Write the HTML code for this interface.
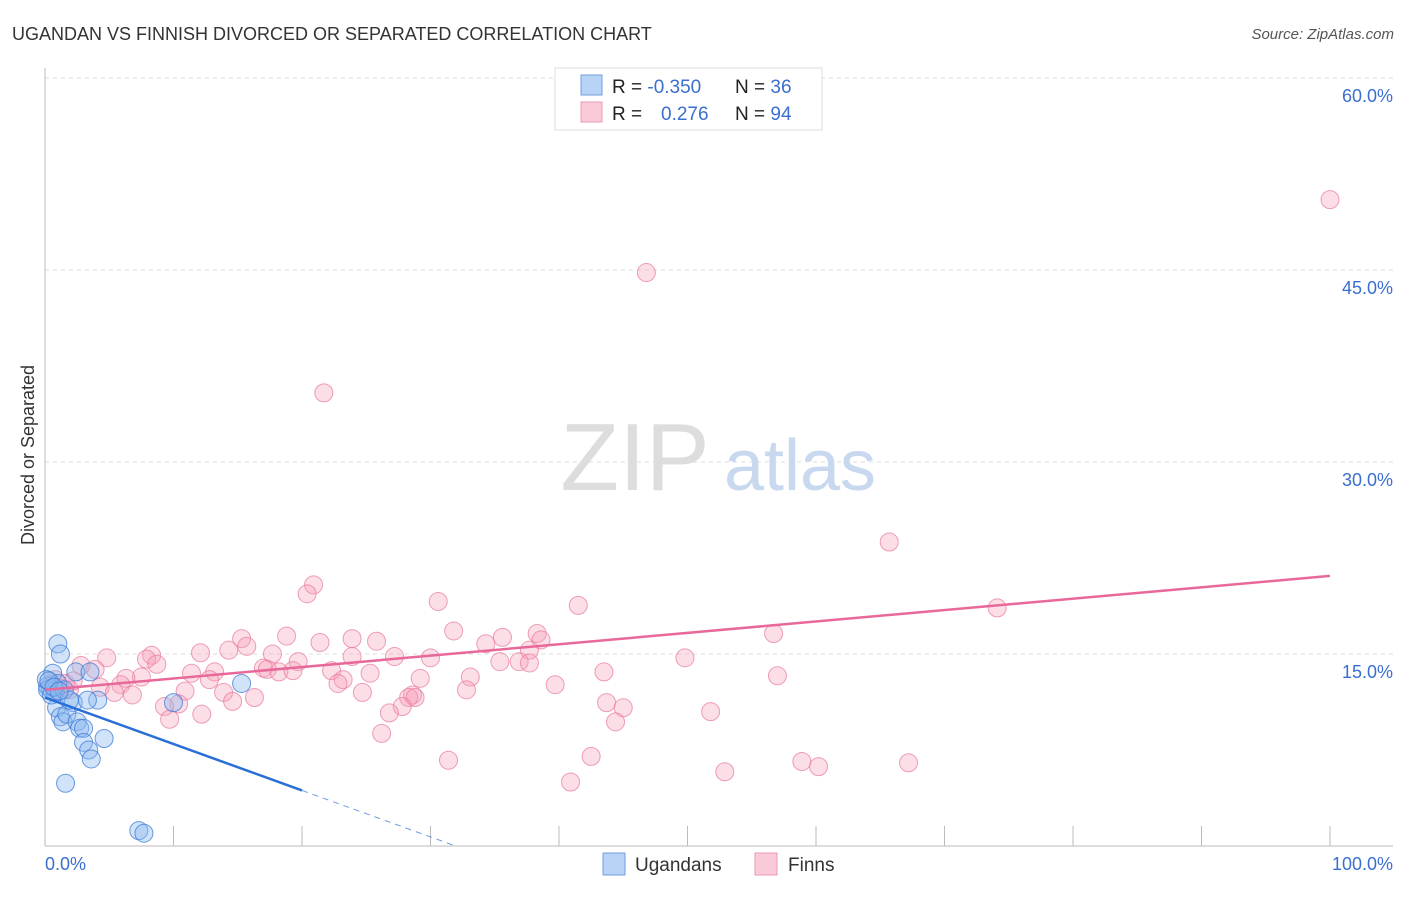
<!DOCTYPE html>
<html><head><meta charset="utf-8"><style>
body{margin:0;background:#fff;font-family:"Liberation Sans",sans-serif}
svg text{font-family:"Liberation Sans",sans-serif}
</style></head><body>
<svg width="1406" height="892" xmlns="http://www.w3.org/2000/svg">
<text x="12" y="40" font-size="18" fill="#333">UGANDAN VS FINNISH DIVORCED OR SEPARATED CORRELATION CHART</text>
<text x="1394" y="39" font-size="15" fill="#555" font-style="italic" text-anchor="end">Source: ZipAtlas.com</text>
<g id="grid"></g>
<g>
<text x="635" y="490" font-size="96" font-family="Liberation Serif" fill="#ddd" text-anchor="middle" font-family="Liberation Serif,serif">ZIP</text>
<text x="800" y="490" font-size="72" fill="#c8d8ef" text-anchor="middle">atlas</text></g>
<line x1="45" y1="68" x2="45" y2="846" stroke="#bbb"/>
<line x1="45" y1="846" x2="1393" y2="846" stroke="#bbb"/>
<g id="xticks"></g>
<g id="pts"></g>
<g id="trends"></g>
<text x="45" y="870" font-size="18" fill="#3a6fd0">0.0%</text>
<text x="1393" y="870" font-size="18" fill="#3a6fd0" text-anchor="end">100.0%</text>
<text transform="translate(34,455) rotate(-90)" font-size="18" fill="#333" text-anchor="middle">Divorced or Separated</text>
<g>
<rect x="555" y="68" width="267" height="62" fill="#fff" stroke="#ddd"/>
<rect x="581" y="75" width="21" height="20" fill="#b8d3f5" stroke="#6f9de0"/>
<rect x="581" y="102" width="21" height="20" fill="#fbcad8" stroke="#ec9ab3"/>
<text x="612" y="93" font-size="19" fill="#222">R = <tspan fill="#3a6fd0">-0.350</tspan></text>
<text x="735" y="93" font-size="19" fill="#222">N = <tspan fill="#3a6fd0">36</tspan></text>
<text x="612" y="120" font-size="19" fill="#222">R = <tspan fill="#3a6fd0" x="661">0.276</tspan></text>
<text x="735" y="120" font-size="19" fill="#222">N = <tspan fill="#3a6fd0">94</tspan></text>
</g>
<g>
<rect x="603" y="853" width="22" height="22" fill="#b8d3f5" stroke="#6f9de0"/>
<text x="635" y="871" font-size="19" fill="#333">Ugandans</text>
<rect x="755" y="853" width="22" height="22" fill="#fbcad8" stroke="#ec9ab3"/>
<text x="788" y="871" font-size="19" fill="#333">Finns</text>
</g>
</svg>
<script>
const yTicks=[15,30,45,60];
const yTickLabels=["15.0%","30.0%","45.0%","60.0%"];
const xTicks=[10,20,30,40,50,60,70,80,90,100];
const finnsX=[100,46.8,21.7,65.7,20.9,20.4,30.6,41.5,74.1,31.8,38.3,56.7,18.8,21.4,23.9,25.8,15.3,35.6,34.3,38.6,37.7,15.7,14.3,12.1,8.3,7.9,4.8,17.7,23.9,27.2,30,35.4,36.9,37.7,49.8,8.7,2.8,3.9,19.7,17,17.3,18.2,19.3,22.3,25.3,43.5,57,13.2,11.4,7.5,6.3,33.1,29.2,12.8,23.2,22.8,5.9,1.6,4.3,39.7,10.9,13.9,32.8,5.4,6.8,24.7,16.3,14.6,28.6,28.3,28.8,10.4,9.3,43.7,45,27.8,51.8,26.8,12.2,9.7,44.4,26.2,31.4,42.5,58.9,60.2,67.2,52.9,40.9,0.8,1.2,1.9,0.5,2.2];
const finnsY=[50.5,44.8,35.4,23.75,20.4,19.7,19.1,18.8,18.6,16.8,16.6,16.6,16.4,15.9,16.2,16.0,16.2,16.3,15.8,16.1,15.3,15.6,15.3,15.1,14.9,14.6,14.7,15.0,14.8,14.8,14.7,14.4,14.4,14.3,14.7,14.2,14.1,13.8,14.4,13.9,13.8,13.6,13.7,13.7,13.5,13.6,13.3,13.6,13.5,13.2,13.1,13.2,13.1,13.0,13.0,12.7,12.6,12.7,12.4,12.6,12.1,12.0,12.2,12.0,11.8,12.0,11.6,11.3,11.8,11.6,11.6,11.1,10.9,11.2,10.8,10.9,10.5,10.4,10.3,9.9,9.7,8.8,6.7,7.0,6.6,6.2,6.5,5.8,5.0,13.0,12.3,12.2,12.6,12.9];
const ugX=[1,1.2,0.6,0.4,0.8,0.2,1,2.4,3.5,15.3,10,4.1,2.2,3.3,0.9,1.2,1.4,1.7,2.5,2.7,3,4.6,3,3.4,3.6,1.6,7.3,7.7,0.2,0.5,0.1,1.5,1.9,0.3,0.7,1.1];
const ugY=[15.8,15,13.5,12.3,12.0,12.5,12.7,13.6,13.6,12.7,11.2,11.4,11.2,11.4,10.8,10.1,9.7,10.3,9.7,9.2,9.2,8.4,8.1,7.5,6.8,4.9,1.2,1.0,12.2,11.8,13.0,12.2,11.4,12.9,12.4,12.1];
const ugTrend=[11.6,-0.363];
const fiTrend=[12.2,0.089];
const NS="http://www.w3.org/2000/svg";
const X=v=>45+v*12.85, Y=v=>846-v*12.8;
function mk(t,a,p){const e=document.createElementNS(NS,t);for(const k in a)e.setAttribute(k,a[k]);p.appendChild(e);return e;}
const grid=document.getElementById('grid');
yTicks.forEach((t,i)=>{
 const l=mk('line',{x1:45,x2:1393,y1:Y(t),y2:Y(t),stroke:'#ddd','stroke-dasharray':'4,4'},grid);
 
 
 const tx=mk('text',{x:1393,y:Y(t)+24,'font-size':18,fill:'#3a6fd0','text-anchor':'end'},grid);
 tx.textContent=yTickLabels[i];
 
 
});
const xt=document.getElementById('xticks');
xTicks.forEach(t=>{const l=mk('line',{x1:X(t),x2:X(t),y1:826,y2:846,stroke:'#bbb'},xt);
 
 });
const pts=document.getElementById('pts');
finnsX.forEach((v,i)=>{const c=mk('circle',{cx:X(v),cy:Y(finnsY[i]),r:9,fill:'rgba(245,160,185,0.35)',stroke:'rgba(232,120,155,0.7)','stroke-width':1},pts);
 
 });
ugX.forEach((v,i)=>{const c=mk('circle',{cx:X(v),cy:Y(ugY[i]),r:9,fill:'rgba(140,185,240,0.4)',stroke:'rgba(60,120,215,0.75)','stroke-width':1},pts);
 
 });
const tr=document.getElementById('trends');
let l=mk('line',{x1:X(0),y1:Y(fiTrend[0]),x2:X(100),y2:Y(fiTrend[0]+100*fiTrend[1]),stroke:'#e8689a','stroke-width':2.5},tr);


l=mk('line',{x1:X(0),y1:Y(ugTrend[0]),x2:X(20),y2:Y(ugTrend[0]+20*ugTrend[1]),stroke:'#2a6fd8','stroke-width':2.5},tr);


const xe=-ugTrend[0]/ugTrend[1];
l=mk('line',{x1:X(20),y1:Y(ugTrend[0]+20*ugTrend[1]),x2:X(xe),y2:Y(0),stroke:'#6f9de0','stroke-width':1,'stroke-dasharray':'6,5'},tr);


</script>
</body></html>
